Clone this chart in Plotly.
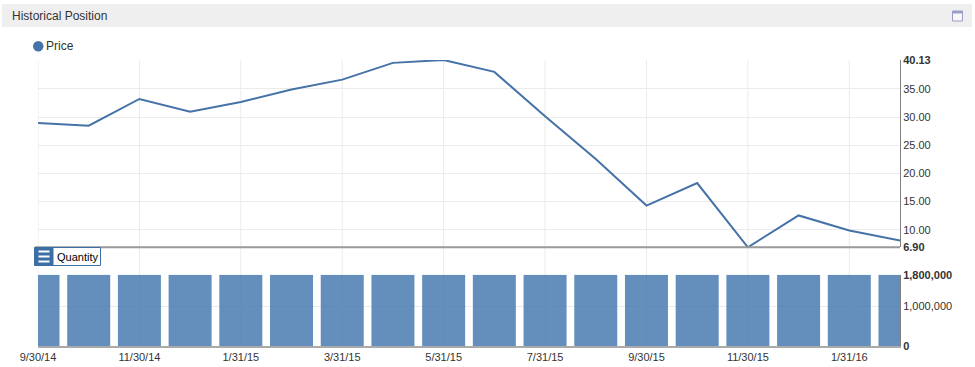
import plotly.graph_objects as go

# ---------------- data ----------------
dates = ["9/30/14", "10/31/14", "11/30/14", "12/31/14", "1/31/15", "2/28/15",
         "3/31/15", "4/30/15", "5/31/15", "6/30/15", "7/31/15", "8/31/15",
         "9/30/15", "10/31/15", "11/30/15", "12/31/15", "1/31/16", "2/29/16"]
price = [28.96, 28.48, 33.22, 30.97, 32.69, 34.90, 36.65, 39.62, 40.13, 38.02,
         30.13, 22.57, 14.30, 18.30, 6.90, 12.55, 9.88, 8.10]
quantity = [1800000, 1800000, 1800000, 1800000, 1800000, 1800000, 1800000,
            1800000, 1800000, 1800000, 1800000, 1800000, 1800000, 1800000,
            1800000, 1800000, 1800000, 1800000]

x_tick_vals = ["9/30/14", "11/30/14", "1/31/15", "3/31/15", "5/31/15",
               "7/31/15", "9/30/15", "11/30/15", "1/31/16"]
price_tick_vals = [6.90, 10, 15, 20, 25, 30, 35, 40.13]
price_tick_text = ["<b>6.90</b>", "10.00", "15.00", "20.00", "25.00", "30.00",
                   "35.00", "<b>40.13</b>"]
qty_tick_vals = [0, 1000000, 1800000]
qty_tick_text = ["<b>0</b>", "1,000,000", "<b>1,800,000</b>"]

# ---------------- layout geometry (page pixel coords) ----------------
W, H = 975, 367
PLOT_L, PLOT_R, PLOT_T, PLOT_B = 38, 900, 60, 346
ML, MT = PLOT_L, PLOT_T
MR = W - PLOT_R
MB = H - PLOT_B
PW = PLOT_R - PLOT_L
PH = PLOT_B - PLOT_T


def px(x):
    return (x - PLOT_L) / PW


def py(y):
    return (PLOT_B - y) / PH


LINE_COLOR = "#4572a7"
GRID = "#ebebeb"
FONT = "Liberation Sans, Arial, sans-serif"

fig = go.Figure()

fig.add_trace(go.Bar(
    x=dates, y=quantity, xaxis="x", yaxis="y2",
    marker=dict(color="rgba(69,120,175,0.83)", line=dict(width=0)),
    showlegend=False, hoverinfo="x+y",
))
fig.add_trace(go.Scatter(
    x=dates, y=price, xaxis="x", yaxis="y", mode="lines",
    line=dict(color=LINE_COLOR, width=2),
    showlegend=False, name="Price",
))

shapes = []
# vertical grid lines through both panes
for d in x_tick_vals:
    shapes.append(dict(type="line", xref="x", yref="paper", x0=d, x1=d, y0=0, y1=1,
                       line=dict(color=GRID, width=1), layer="below"))
# bottom border of price pane
shapes.append(dict(type="line", xref="paper", yref="y domain", x0=px(35), x1=1,
                   y0=0, y1=0, line=dict(color="#999999", width=2)))
# header bar
shapes.append(dict(type="rect", xref="paper", yref="paper",
                   x0=px(2), x1=px(972), y0=py(27), y1=py(4),
                   fillcolor="#efefef", line=dict(width=0), layer="below"))
# header window icon
shapes.append(dict(type="rect", xref="paper", yref="paper",
                   x0=px(952.5), x1=px(962.5), y0=py(21), y1=py(11),
                   fillcolor="#f8f8f8", line=dict(color="#9c9cc8", width=1)))
shapes.append(dict(type="rect", xref="paper", yref="paper",
                   x0=px(952.5), x1=px(962.5), y0=py(13.5), y1=py(11),
                   fillcolor="#9c9cc8", line=dict(width=0)))
# legend symbol
shapes.append(dict(type="circle", xref="paper", yref="paper",
                   x0=px(33), x1=px(43.5), y0=py(51.5), y1=py(41),
                   fillcolor=LINE_COLOR, line=dict(width=0)))
# Quantity button
shapes.append(dict(type="rect", xref="paper", yref="paper",
                   x0=px(52.5), x1=px(100.5), y0=py(265.5), y1=py(247.5),
                   fillcolor="white", line=dict(color="#3c6fa6", width=1)))
shapes.append(dict(type="rect", xref="paper", yref="paper",
                   x0=px(34.5), x1=px(53), y0=py(265.5), y1=py(247.5),
                   fillcolor="#3c6fa6", line=dict(color="#3c6fa6", width=1)))
for yy in (251.5, 256.5, 261.5):
    shapes.append(dict(type="line", xref="paper", yref="paper",
                       x0=px(38.5), x1=px(49.5), y0=py(yy), y1=py(yy),
                       line=dict(color="white", width=2)))

annotations = [
    dict(text="Historical Position", xref="paper", yref="paper",
         x=px(10), y=py(16), xanchor="left", yanchor="middle", showarrow=False,
         font=dict(family=FONT, size=12, color="#333333")),
    dict(text="Price", xref="paper", yref="paper", x=px(44), y=py(46),
         xanchor="left", yanchor="middle", showarrow=False,
         font=dict(family=FONT, size=12, color="#333333")),
    dict(text="Quantity", xref="paper", yref="paper", x=px(54.5), y=py(257),
         xanchor="left", yanchor="middle", showarrow=False,
         font=dict(family=FONT, size=11, color="#000000")),
]

fig.update_layout(
    width=W, height=H,
    margin=dict(l=ML, r=MR, t=MT, b=MB, pad=0, autoexpand=False),
    paper_bgcolor="white", plot_bgcolor="rgba(0,0,0,0)",
    font=dict(family=FONT, size=11, color="#444444"),
    bargap=0.152,
    shapes=shapes, annotations=annotations,
    xaxis=dict(type="category", range=[0, len(dates) - 1], anchor="y2",
               tickvals=x_tick_vals, ticktext=x_tick_vals, showgrid=False,
               ticks="", tickfont=dict(size=11, color="#333333"),
               showline=True, linecolor="#aaaaaa", linewidth=2, zeroline=False,
               automargin=False, fixedrange=True),
    yaxis=dict(domain=[py(247.3), 1], range=[6.90, 40.13], side="right",
               anchor="x", tickvals=price_tick_vals, ticktext=price_tick_text,
               gridcolor=GRID, showline=True, linecolor="#808080", linewidth=1,
               ticks="", ticklabelstandoff=0, zeroline=False, automargin=False,
               tickfont=dict(size=11, color="#333333")),
    yaxis2=dict(domain=[0, py(274.7)], range=[0, 1800000], side="right",
                anchor="x", tickvals=qty_tick_vals, ticktext=qty_tick_text,
                gridcolor=GRID, showline=True, linecolor="#808080", linewidth=1,
                ticks="", ticklabelstandoff=0, zeroline=False, automargin=False,
                tickfont=dict(size=11, color="#333333")),
)

fig.write_html(
    "out.html",
    config={"displayModeBar": False},
    post_script="document.body.style.margin='0';document.body.style.overflow='hidden';",
)
